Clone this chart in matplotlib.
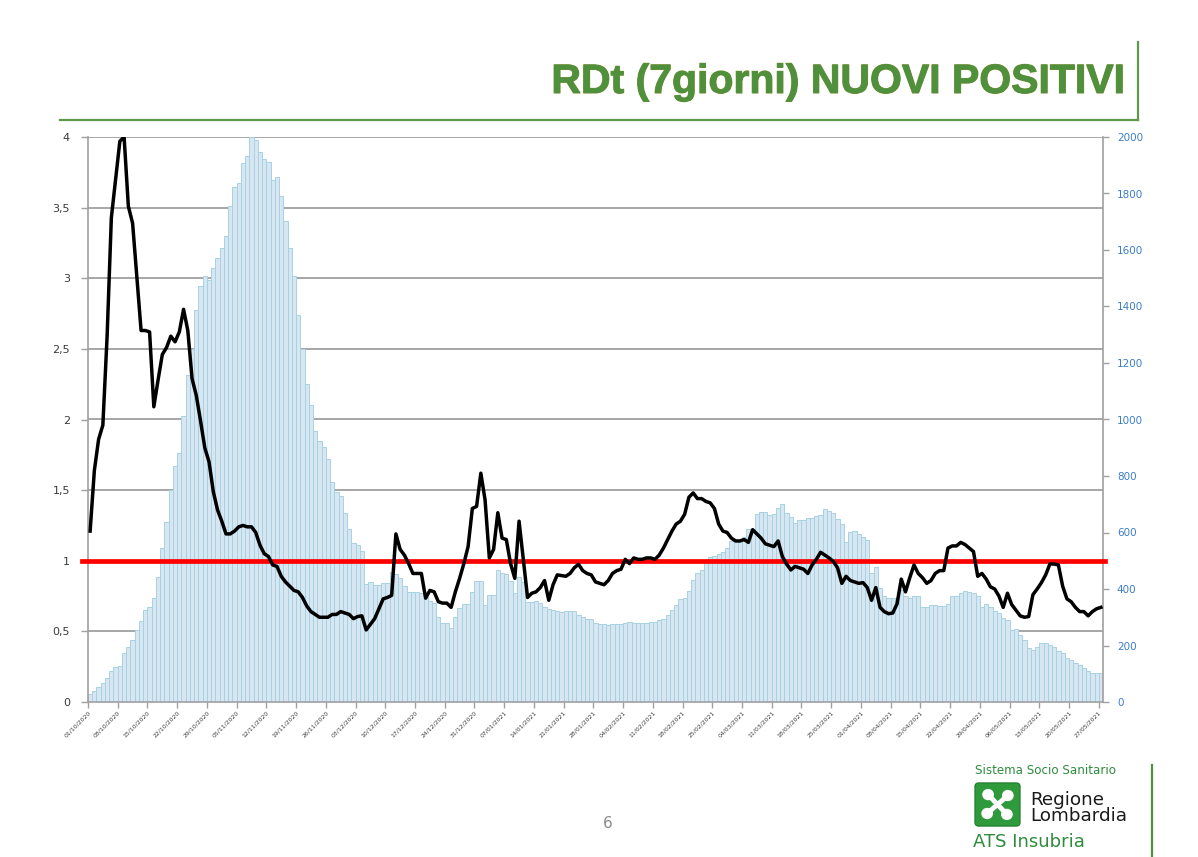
import numpy as np
import matplotlib
matplotlib.use("Agg")
import matplotlib.pyplot as plt
from matplotlib.lines import Line2D
from matplotlib.patches import FancyBboxPatch, Circle
from matplotlib.ticker import FixedLocator, FuncFormatter
import matplotlib.patheffects as pe

# ---------------- data ----------------
title = "RDt (7giorni) NUOVI POSITIVI"

# daily new positives (right axis), 01/10/2020 .. 27/05/2021
new_cases = [
    30, 39, 53, 66, 86, 109, 125, 129, 175, 193,
    221, 254, 288, 325, 336, 368, 441, 546, 638, 750,
    836, 882, 1013, 1158, 1250, 1388, 1474, 1507, 1494, 1536,
    1570, 1606, 1649, 1757, 1823, 1836, 1908, 1934, 2000, 1990,
    1948, 1921, 1912, 1849, 1858, 1790, 1701, 1606, 1507, 1371,
    1250, 1125, 1053, 961, 925, 904, 859, 780, 744, 729,
    668, 611, 562, 556, 536, 418, 424, 414, 414, 420,
    420, 460, 453, 438, 411, 391, 388, 388, 385, 371,
    358, 349, 300, 281, 281, 263, 300, 332, 347, 347,
    388, 428, 428, 343, 379, 379, 467, 458, 453, 430,
    385, 441, 426, 355, 355, 358, 352, 337, 328, 326,
    323, 320, 323, 323, 323, 308, 302, 295, 293, 278,
    276, 275, 273, 275, 275, 275, 278, 284, 278, 281,
    281, 281, 284, 284, 290, 293, 308, 326, 343, 363,
    367, 393, 432, 455, 467, 497, 514, 517, 523, 532,
    544, 570, 570, 570, 583, 611, 611, 666, 674, 674,
    662, 666, 686, 701, 670, 654, 635, 644, 644, 650,
    650, 658, 662, 682, 677, 670, 647, 630, 568, 603,
    607, 595, 584, 575, 457, 478, 403, 374, 368, 368,
    368, 397, 374, 368, 374, 374, 336, 336, 344, 344,
    341, 341, 348, 374, 376, 386, 392, 388, 386, 376,
    336, 348, 338, 321, 315, 297, 289, 256, 258, 238,
    220, 190, 185, 194, 208, 208, 202, 196, 179, 173,
    157, 149, 137, 131, 119, 111, 104, 102, 104,
]

# RDt 7 giorni (left axis)
rdt = [
    1.21, 1.64, 1.86, 1.96, 2.59, 3.43, 3.70, 3.97, 4.00, 3.51,
    3.39, 3.01, 2.63, 2.63, 2.62, 2.09, 2.28, 2.46, 2.51, 2.59,
    2.55, 2.62, 2.78, 2.63, 2.29, 2.17, 1.99, 1.80, 1.70, 1.49,
    1.36, 1.28, 1.19, 1.19, 1.21, 1.24, 1.25, 1.24, 1.24, 1.20,
    1.11, 1.05, 1.03, 0.97, 0.96, 0.89, 0.85, 0.82, 0.79, 0.78,
    0.74, 0.68, 0.64, 0.62, 0.60, 0.60, 0.60, 0.62, 0.62, 0.64,
    0.63, 0.62, 0.59, 0.605, 0.61, 0.51, 0.55, 0.59, 0.66, 0.73,
    0.74, 0.755, 1.19, 1.08, 1.04, 0.98, 0.91, 0.91, 0.91, 0.735,
    0.79, 0.78, 0.71, 0.70, 0.70, 0.67, 0.78, 0.875, 0.98, 1.10,
    1.37, 1.385, 1.62, 1.43, 1.02, 1.08, 1.34, 1.16, 1.15, 0.98,
    0.875, 1.28, 1.01, 0.74, 0.77, 0.78, 0.81, 0.86, 0.72, 0.83,
    0.90, 0.895, 0.89, 0.91, 0.95, 0.975, 0.93, 0.91, 0.90, 0.85,
    0.84, 0.83, 0.86, 0.91, 0.93, 0.94, 1.01, 0.98, 1.02, 1.01,
    1.01, 1.02, 1.02, 1.01, 1.04, 1.09, 1.15, 1.21, 1.26, 1.28,
    1.33, 1.45, 1.48, 1.44, 1.44, 1.42, 1.41, 1.37, 1.26, 1.21,
    1.20, 1.16, 1.14, 1.14, 1.15, 1.13, 1.22, 1.19, 1.16, 1.12,
    1.11, 1.10, 1.14, 1.03, 0.976, 0.935, 0.96, 0.95, 0.94, 0.91,
    0.97, 1.01, 1.06, 1.04, 1.02, 0.995, 0.95, 0.84, 0.89, 0.86,
    0.85, 0.84, 0.845, 0.81, 0.72, 0.81, 0.67, 0.64, 0.625, 0.63,
    0.695, 0.87, 0.78, 0.88, 0.97, 0.91, 0.88, 0.84, 0.86, 0.91,
    0.93, 0.93, 1.09, 1.105, 1.105, 1.13, 1.115, 1.09, 1.065, 0.89,
    0.91, 0.87, 0.815, 0.80, 0.75, 0.67, 0.77, 0.69, 0.65, 0.61,
    0.60, 0.605, 0.76, 0.80, 0.845, 0.90, 0.977, 0.977, 0.97, 0.82,
    0.73, 0.71, 0.67, 0.64, 0.64, 0.61, 0.64, 0.66, 0.67,
]

threshold = 1.0

date_labels = [
    "01/10/2020", "08/10/2020", "15/10/2020", "22/10/2020", "29/10/2020",
    "05/11/2020", "12/11/2020", "19/11/2020", "26/11/2020", "03/12/2020",
    "10/12/2020", "17/12/2020", "24/12/2020", "31/12/2020", "07/01/2021",
    "14/01/2021", "21/01/2021", "28/01/2021", "04/02/2021", "11/02/2021",
    "18/02/2021", "25/02/2021", "04/03/2021", "11/03/2021", "18/03/2021",
    "25/03/2021", "01/04/2021", "08/04/2021", "15/04/2021", "22/04/2021",
    "29/04/2021", "06/05/2021", "13/05/2021", "20/05/2021", "27/05/2021",
]
left_ticks = [0, 0.5, 1, 1.5, 2, 2.5, 3, 3.5, 4]
right_ticks = [0, 200, 400, 600, 800, 1000, 1200, 1400, 1600, 1800, 2000]
left_max, right_max = 4, 2000

# ---------------- figure ----------------
W, H = 1198, 857
fig = plt.figure(figsize=(W / 100, H / 100), dpi=100)
fig.patch.set_facecolor("white")

def fx(x):
    return x / W

def fy(y):
    return 1 - y / H

n = len(new_cases)
days = np.arange(n)
xc = days + 0.5

ax_bar = fig.add_axes([fx(88), fy(702), fx(1103) - fx(88), fy(137) - fy(702)])
ax_line = ax_bar.twinx()

# gridlines of the left (RDt) scale, drawn beneath the bars
grid_vals = np.array(left_ticks[1:]) * (right_max / left_max)
ax_bar.hlines(grid_vals, 0, n, colors="#a6a6a6", linewidth=1.4, zorder=1)
ax_bar.bar(xc, new_cases, width=1.0, color="#d7e6f0", edgecolor="#a6d3e3",
           linewidth=0.7, zorder=2)
ax_bar.set_xlim(0, n)
ax_bar.set_ylim(0, right_max)
ax_bar.yaxis.tick_right()
ax_bar.yaxis.set_label_position("right")
ax_bar.yaxis.set_major_locator(FixedLocator(right_ticks))
ax_bar.tick_params(axis="y", which="major", colors="#a0a0a0", labelcolor="#3b7dc8",
                   labelsize=7.5, length=4, width=1, direction="out", pad=6,
                   left=False, labelleft=False, right=True, labelright=True)
ax_bar.set_xticks(np.arange(0, n, 7))
ax_bar.set_xticklabels(date_labels, rotation=45, ha="right", va="top",
                       rotation_mode="anchor", fontsize=4.4, color="#404040")
ax_bar.tick_params(axis="x", colors="#a0a0a0", labelcolor="#404040", length=4,
                   width=1, direction="out", pad=2)
ax_bar.spines["top"].set_visible(False)
for s in ["left", "right", "bottom"]:
    ax_bar.spines[s].set_color("#a0a0a0")
    ax_bar.spines[s].set_linewidth(1.2)

ax_line.set_ylim(0, left_max)
ax_line.set_xlim(0, n)
ax_line.yaxis.tick_left()
ax_line.yaxis.set_label_position("left")
ax_line.yaxis.set_major_locator(FixedLocator(left_ticks))
ax_line.yaxis.set_major_formatter(FuncFormatter(lambda v, p: ("%g" % v).replace(".", ",")))
ax_line.tick_params(axis="y", colors="#a0a0a0", labelcolor="#3a3a3a", labelsize=8,
                    length=5, width=1, direction="out", pad=8,
                    left=True, labelleft=True, right=False, labelright=False)
for s in ["top", "right", "bottom", "left"]:
    ax_line.spines[s].set_visible(False)
ax_line.axhline(threshold, xmin=-0.006, xmax=1.002, color="#ff0000", linewidth=3.4,
                clip_on=False, zorder=3)
ax_line.plot(xc, rdt, color="black", linewidth=2.5, solid_joinstyle="round",
             zorder=4)

# ---------------- title & frame lines ----------------
fig.text(fx(1125), fy(93), title, ha="right", va="baseline", fontsize=29.5,
         fontweight="bold", family="Liberation Sans", color="#4f903d",
         path_effects=[pe.withStroke(linewidth=0.8, foreground="#7f8f35"),
                       pe.Normal()])
fig.add_artist(Line2D([fx(60), fx(1138)], [fy(120), fy(120)], color="#5b9a4b", lw=1.6))
fig.add_artist(Line2D([fx(1138), fx(1138)], [fy(42), fy(120)], color="#5b9a4b", lw=1.6))

# page number
fig.text(fx(608), fy(823), "6", ha="center", va="center", fontsize=11,
         color="#8a8a8a", family="DejaVu Sans")

# ---------------- logo ----------------
fig.add_artist(Line2D([fx(1152), fx(1152)], [fy(765), fy(857)], color="#4f8f3f", lw=1.6))
fig.text(fx(975), fy(770), "Sistema Socio Sanitario", ha="left", va="center",
         fontsize=8.6, color="#2f8c3c", family="DejaVu Sans")
ax_logo = fig.add_axes([fx(974), fy(827), fx(1021) - fx(974), fy(782) - fy(827)])
ax_logo.set_xlim(0, 1)
ax_logo.set_ylim(0, 1)
ax_logo.axis("off")
ax_logo.add_patch(FancyBboxPatch((0.02, 0.02), 0.96, 0.96,
                                 boxstyle="round,pad=0,rounding_size=0.08",
                                 facecolor="#2f9a3c", edgecolor="#1f7a2c", lw=0.8))
for (cx, cy) in [(0.3, 0.72), (0.72, 0.7), (0.28, 0.3), (0.7, 0.28)]:
    ax_logo.add_patch(Circle((cx, cy), 0.11, color="white"))
ax_logo.plot([0.3, 0.7], [0.72, 0.28], color="white", lw=3.5, solid_capstyle="round")
ax_logo.plot([0.28, 0.72], [0.3, 0.7], color="white", lw=3.5, solid_capstyle="round")
fig.text(fx(1030), fy(805), "Regione", ha="left", va="baseline", fontsize=13.2,
         color="#1a1a1a", family="DejaVu Sans")
fig.text(fx(1030), fy(821), "Lombardia", ha="left", va="baseline", fontsize=13.2,
         color="#1a1a1a", family="DejaVu Sans", linespacing=1.0)
fig.text(fx(973), fy(842), "ATS Insubria", ha="left", va="center", fontsize=13,
         color="#2f8c3c", family="DejaVu Sans")

fig.savefig("out.png", dpi=100, facecolor="white")
